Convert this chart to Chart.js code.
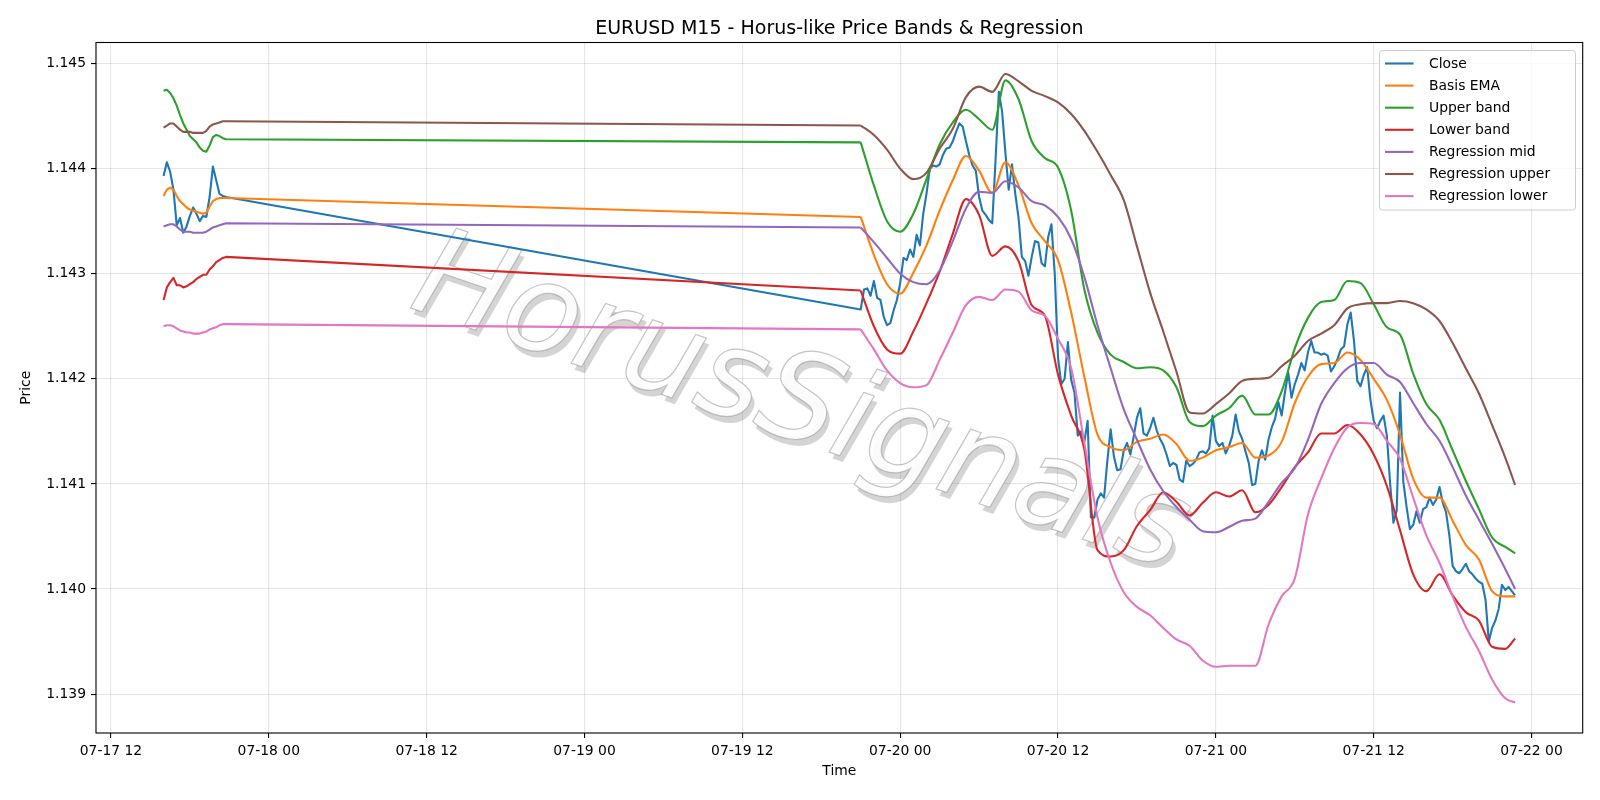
<!DOCTYPE html>
<html><head><meta charset="utf-8">
<script src="https://cdn.jsdelivr.net/npm/chart.js@4.4.1/dist/chart.umd.min.js"></script>
<style>html,body{margin:0;padding:0;background:#fff;}#wrap{width:1600px;height:800px;}</style>
</head><body><div id="wrap"><canvas id="c" width="1600" height="800"></canvas></div>
<script>
// ---- time axis: hours since 07-17 00:00 (UTC) ----
const fridayStartHour = 16;      // 07-17 16:00, first M15 bar
const sundayStartHour = 69;      // 07-19 21:00, first bar after weekend
const barStepHours = 0.25;       // M15
const xTickHours  = [12, 24, 36, 48, 60, 72, 84, 96, 108, 120];
const xTickLabels = ['07-17 12','07-18 00','07-18 12','07-19 00','07-19 12','07-20 00','07-20 12','07-21 00','07-21 12','07-22 00'];
const yTickValues = [1.139, 1.140, 1.141, 1.142, 1.143, 1.144, 1.145];
// sample times (hours) for the smooth band series after the weekend
const bandTimes = [69,70,71,72,73,74,75,76,77,78,79,80,81,82,83,84,85,86,87,88,89,90,91,92,93,94,95,96,97,98,99,100,101,102,103,104,105,106,107,108,109,110,111,112,113,114,115,116,117,118,118.75];

const chartTitle = 'EURUSD M15 - Horus-like Price Bands & Regression';
const watermarkText = 'HorusSignals';
const seriesNames  = ['Close','Basis EMA','Upper band','Lower band','Regression mid','Regression upper','Regression lower'];
const seriesColors = ['#1f77b4','#ff7f0e','#2ca02c','#d62728','#9467bd','#8c564b','#e377c2'];

// ---- Friday bars (M15) ----
const closeFri  = [1.14393,1.14406,1.14397,1.14380,1.14346,1.14353,1.14339,1.14345,1.14355,1.14363,1.14357,1.14350,1.14355,1.14354,1.14373,1.14402,1.14389,1.14376,1.14374,1.14373];
const basisFri  = [1.14374,1.14380,1.14382,1.14380,1.14374,1.14369,1.14366,1.14363,1.14361,1.14360,1.14359,1.14358,1.14357,1.14358,1.14364,1.14369,1.14371,1.14372,1.14372,1.14372];
const upperFri  = [1.14474,1.14475,1.14472,1.14467,1.14460,1.14451,1.14443,1.14437,1.14431,1.14428,1.14425,1.14420,1.14417,1.14416,1.14422,1.14430,1.14432,1.14431,1.14429,1.14428];
const lowerFri  = [1.14275,1.14287,1.14292,1.14296,1.14289,1.14289,1.14287,1.14288,1.14290,1.14292,1.14295,1.14297,1.14299,1.14299,1.14304,1.14307,1.14311,1.14313,1.14315,1.14316];
const regMidFri = [1.14345,1.14346,1.14347,1.14347,1.14345,1.14342,1.14340,1.14340,1.14340,1.14339,1.14339,1.14339,1.14339,1.14340,1.14342,1.14344,1.14345,1.14346,1.14347,1.14348];
const regUpFri  = [1.14439,1.14441,1.14443,1.14443,1.14440,1.14437,1.14435,1.14435,1.14435,1.14434,1.14434,1.14434,1.14434,1.14436,1.14440,1.14442,1.14443,1.14444,1.14445,1.14445];
const regLowFri = [1.14250,1.14251,1.14251,1.14250,1.14248,1.14246,1.14245,1.14244,1.14244,1.14243,1.14243,1.14243,1.14244,1.14245,1.14247,1.14248,1.14249,1.14251,1.14252,1.14252];

// ---- after the weekend: Close per M15 bar ----
const closeSun = [
1.14266,1.14285,1.14286,1.14279,1.14293,1.14277,1.14275,1.14259,1.14251,1.14253,
1.14265,1.14275,1.14291,1.14315,1.14313,1.14323,1.14316,1.14337,1.14327,1.14357,
1.14376,1.14400,1.14403,1.14402,1.14404,1.14413,1.14419,1.14420,1.14426,1.14435,
1.14443,1.14440,1.14426,1.14413,1.14403,1.14398,1.14373,1.14360,1.14356,1.14351,
1.14348,1.14408,1.14473,1.14454,1.14415,1.14380,1.14404,1.14376,1.14353,1.14316,
1.14312,1.14298,1.14316,1.14331,1.14330,1.14310,1.14307,1.14335,1.14347,1.14300,
1.14220,1.14195,1.14200,1.14235,1.14199,1.14187,1.14146,1.14150,1.14140,1.14160,
1.14068,1.14068,1.14085,1.14091,1.14087,1.14122,1.14152,1.14126,1.14113,1.14114,
1.14132,1.14139,1.14128,1.14145,1.14163,1.14172,1.14148,1.14146,1.14153,1.14163,
1.14151,1.14143,1.14137,1.14128,1.14117,1.14120,1.14118,1.14104,1.14102,1.14122,
1.14117,1.14119,1.14123,1.14130,1.14131,1.14129,1.14134,1.14165,1.14141,1.14136,
1.14139,1.14129,1.14136,1.14146,1.14166,1.14150,1.14143,1.14131,1.14120,1.14099,
1.14100,1.14122,1.14132,1.14123,1.14142,1.14154,1.14162,1.14178,1.14165,1.14187,
1.14206,1.14182,1.14195,1.14204,1.14215,1.14208,1.14225,1.14236,1.14225,1.14225,
1.14223,1.14224,1.14222,1.14207,1.14212,1.14219,1.14228,1.14231,1.14252,1.14263,
1.14236,1.14198,1.14193,1.14204,1.14211,1.14180,1.14160,1.14153,1.14160,1.14165,
1.14146,1.14100,1.14063,1.14075,1.14187,1.14102,1.14078,1.14057,1.14061,1.14074,
1.14063,1.14076,1.14078,1.14087,1.14080,1.14085,1.14097,1.14082,1.14073,1.14051,
1.14022,1.14017,1.14015,1.14019,1.14024,1.14017,1.14014,1.14010,1.14007,1.14005,
1.13990,1.13950,1.13963,1.13970,1.13981,1.14004,1.13999,1.14002,1.13998,1.13994];

// ---- after the weekend: band series at bandTimes ----
const basisSun = [1.14354,1.14318,1.14290,1.14281,1.14301,1.14327,1.14360,1.14389,1.14412,1.14398,
1.14377,1.14406,1.14384,1.14348,1.14331,1.14313,1.14263,1.14202,1.14147,1.14135,
1.14132,1.14140,1.14143,1.14147,1.14138,1.14122,1.14125,1.14132,1.14135,1.14139,
1.14125,1.14127,1.14140,1.14177,1.14202,1.14214,1.14215,1.14225,1.14218,1.14200,
1.14180,1.14147,1.14105,1.14087,1.14087,1.14065,1.14042,1.14028,1.13998,1.13993,1.13993];
const upperSun = [1.14425,1.14384,1.14350,1.14340,1.14357,1.14390,1.14423,1.14444,1.14456,1.14447,
1.14437,1.14484,1.14466,1.14426,1.14410,1.14401,1.14360,1.14285,1.14244,1.14223,
1.14216,1.14210,1.14211,1.14208,1.14192,1.14159,1.14155,1.14165,1.14172,1.14184,
1.14166,1.14166,1.14188,1.14229,1.14258,1.14273,1.14275,1.14293,1.14291,1.14271,
1.14249,1.14242,1.14205,1.14176,1.14161,1.14132,1.14103,1.14076,1.14049,1.14040,1.14034];
const lowerSun = [1.14284,1.14250,1.14228,1.14224,1.14245,1.14272,1.14302,1.14338,1.14371,1.14356,
1.14317,1.14326,1.14312,1.14270,1.14260,1.14204,1.14165,1.14133,1.14037,1.14031,
1.14037,1.14060,1.14075,1.14092,1.14083,1.14070,1.14082,1.14092,1.14088,1.14094,
1.14073,1.14080,1.14097,1.14116,1.14130,1.14148,1.14148,1.14156,1.14147,1.14128,
1.14098,1.14056,1.14014,1.13998,1.14014,1.13994,1.13978,1.13970,1.13945,1.13943,1.13953];
const regMidSun = [1.14344,1.14330,1.14315,1.14300,1.14292,1.14290,1.14303,1.14331,1.14362,1.14378,
1.14377,1.14388,1.14382,1.14369,1.14365,1.14354,1.14333,1.14297,1.14251,1.14210,
1.14171,1.14142,1.14114,1.14093,1.14078,1.14066,1.14055,1.14054,1.14059,1.14065,
1.14067,1.14083,1.14101,1.14115,1.14142,1.14176,1.14196,1.14210,1.14215,1.14215,
1.14204,1.14197,1.14177,1.14157,1.14141,1.14116,1.14089,1.14066,1.14043,1.14019,1.14000];
const regUpSun = [1.14441,1.14432,1.14418,1.14400,1.14390,1.14396,1.14419,1.14438,1.14468,1.14478,
1.14473,1.14490,1.14483,1.14474,1.14469,1.14463,1.14452,1.14436,1.14416,1.14394,
1.14370,1.14326,1.14282,1.14245,1.14207,1.14168,1.14167,1.14176,1.14186,1.14198,
1.14200,1.14201,1.14212,1.14222,1.14236,1.14243,1.14251,1.14267,1.14271,1.14272,
1.14272,1.14274,1.14272,1.14266,1.14255,1.14234,1.14210,1.14186,1.14156,1.14125,1.14099];
const regLowSun = [1.14247,1.14228,1.14208,1.14196,1.14192,1.14194,1.14218,1.14244,1.14270,1.14278,
1.14275,1.14285,1.14283,1.14265,1.14260,1.14238,1.14210,1.14139,1.14068,1.14025,
1.13997,1.13983,1.13975,1.13963,1.13952,1.13946,1.13932,1.13926,1.13927,1.13927,
1.13927,1.13966,1.13993,1.14010,1.14071,1.14105,1.14134,1.14154,1.14158,1.14157,
1.14141,1.14124,1.14087,1.14051,1.14025,1.13993,1.13964,1.13941,1.13914,1.13896,1.13892];

// ---- build library data from the arrays ----
const barPts  = (vals, start) => vals.map((v, i) => ({x: start + i * barStepHours, y: v}));
const bandPts = vals => vals.map((v, i) => ({x: bandTimes[i], y: v}));
const bandFri = [basisFri, upperFri, lowerFri, regMidFri, regUpFri, regLowFri];
const bandSun = [basisSun, upperSun, lowerSun, regMidSun, regUpSun, regLowSun];

const datasets = [];
const baseStyle = (i) => ({
  borderColor: seriesColors[i], backgroundColor: seriesColors[i], borderWidth: 2.1,
  pointRadius: 0, pointHoverRadius: 0, fill: false, borderJoinStyle: 'round', borderCapStyle: 'butt',
  order: seriesNames.length - i
});
// Close: every bar, straight segments (weekend gap joined by a straight line)
datasets.push(Object.assign(baseStyle(0), {
  label: seriesNames[0],
  data: barPts(closeFri, fridayStartHour).concat(barPts(closeSun, sundayStartHour)),
  tension: 0
}));
bandFri.forEach((fri, k) => {
  const i = k + 1;
  const friPts = barPts(fri, fridayStartHour);
  const sunPts = bandPts(bandSun[k]);
  // Friday bars + straight line across the weekend to the first Sunday value
  datasets.push(Object.assign(baseStyle(i), {label: seriesNames[i], data: friPts.concat([sunPts[0]]), tension: 0}));
  // after the weekend: smooth curve through the sampled values
  datasets.push(Object.assign(baseStyle(i), {label: seriesNames[i], data: sunPts, cubicInterpolationMode: 'monotone'}));
});

const firstHour = fridayStartHour;
const lastHour = bandTimes[bandTimes.length - 1];
const xPad = (lastHour - firstHour) * 0.05;

const FONT = '"DejaVu Sans", "Liberation Sans", sans-serif';

const decorPlugin = {
  id: 'decor',
  beforeDatasetsDraw(chart) {
    const {ctx, chartArea: a} = chart;
    ctx.save();
    ctx.beginPath(); ctx.rect(a.left, a.top, a.right - a.left, a.bottom - a.top); ctx.clip();
    ctx.translate(800, 408);
    ctx.rotate(19 * Math.PI / 180);
    ctx.font = 'italic 124px ' + FONT;
    ctx.textAlign = 'center'; ctx.textBaseline = 'middle';
    ctx.fillStyle = 'rgba(90,90,90,0.26)';
    ctx.fillText(watermarkText, 5, 5);
    ctx.fillStyle = 'rgba(255,255,255,0.92)';
    ctx.fillText(watermarkText, 0, 0);
    ctx.lineWidth = 1.2; ctx.strokeStyle = 'rgba(140,140,140,0.5)';
    ctx.strokeText(watermarkText, 0, 0);
    ctx.restore();
  },
  afterDraw(chart) {
    const {ctx, chartArea: a} = chart;
    ctx.save();
    // title centred over the axes
    ctx.fillStyle = '#000';
    ctx.font = '19px ' + FONT;
    ctx.textAlign = 'center'; ctx.textBaseline = 'alphabetic';
    ctx.fillText(chartTitle, (a.left + a.right) / 2, 33.5);
    // axes frame
    ctx.strokeStyle = '#000'; ctx.lineWidth = 1.1;
    ctx.strokeRect(a.left, a.top, a.right - a.left, a.bottom - a.top);
    // legend
    const bx = 1379.5, by = 50.5, bw = 196, bh = 159.5, r = 3;
    ctx.beginPath();
    ctx.moveTo(bx + r, by); ctx.lineTo(bx + bw - r, by); ctx.quadraticCurveTo(bx + bw, by, bx + bw, by + r);
    ctx.lineTo(bx + bw, by + bh - r); ctx.quadraticCurveTo(bx + bw, by + bh, bx + bw - r, by + bh);
    ctx.lineTo(bx + r, by + bh); ctx.quadraticCurveTo(bx, by + bh, bx, by + bh - r);
    ctx.lineTo(bx, by + r); ctx.quadraticCurveTo(bx, by, bx + r, by); ctx.closePath();
    ctx.fillStyle = 'rgba(255,255,255,0.8)'; ctx.fill();
    ctx.strokeStyle = '#cccccc'; ctx.lineWidth = 1; ctx.stroke();
    ctx.font = '13.9px ' + FONT; ctx.textBaseline = 'middle'; ctx.textAlign = 'left';
    seriesNames.forEach((name, i) => {
      const y = 63.5 + i * 22.1;
      ctx.strokeStyle = seriesColors[i]; ctx.lineWidth = 2.1;
      ctx.beginPath(); ctx.moveTo(1385, y); ctx.lineTo(1413.5, y); ctx.stroke();
      ctx.fillStyle = '#000'; ctx.fillText(name, 1429, y + 0.5);
    });
    ctx.restore();
  }
};

new Chart(document.getElementById('c'), {
  type: 'line',
  data: {datasets},
  options: {
    responsive: false,
    animation: false,
    devicePixelRatio: 1,
    layout: {padding: {left: 0, right: 17.3, top: 42.5, bottom: 0}},
    plugins: {legend: {display: false}, tooltip: {enabled: false}, title: {display: false}},
    scales: {
      x: {
        type: 'linear',
        min: firstHour - xPad,
        max: lastHour + xPad,
        afterBuildTicks: s => { s.ticks = xTickHours.map(v => ({value: v})); },
        afterFit: s => { s.height = 67; },
        ticks: {
          callback: v => xTickLabels[xTickHours.indexOf(v)],
          color: '#000', font: {family: FONT, size: 13.9}, padding: 5,
          maxRotation: 0, autoSkip: false
        },
        grid: {color: 'rgba(176,176,176,0.32)', lineWidth: 1.1, tickColor: '#000', tickLength: 5, drawTicks: true},
        border: {display: false},
        title: {display: true, text: 'Time', color: '#000', font: {family: FONT, size: 13.9}, padding: {top: 0, bottom: 20.5}}
      },
      y: {
        type: 'linear',
        min: 1.13863,
        max: 1.14520,
        afterBuildTicks: s => { s.ticks = yTickValues.map(v => ({value: v})); },
        afterFit: s => { s.width = 96; },
        ticks: {callback: v => v.toFixed(3), color: '#000', font: {family: FONT, size: 13.9}, padding: 5},
        grid: {color: 'rgba(176,176,176,0.32)', lineWidth: 1.1, tickColor: '#000', tickLength: 5, drawTicks: true},
        border: {display: false},
        title: {display: true, text: 'Price', color: '#000', font: {family: FONT, size: 13.9}, padding: {top: 18, bottom: 0}}
      }
    }
  },
  plugins: [decorPlugin]
});
</script>
</body></html>
